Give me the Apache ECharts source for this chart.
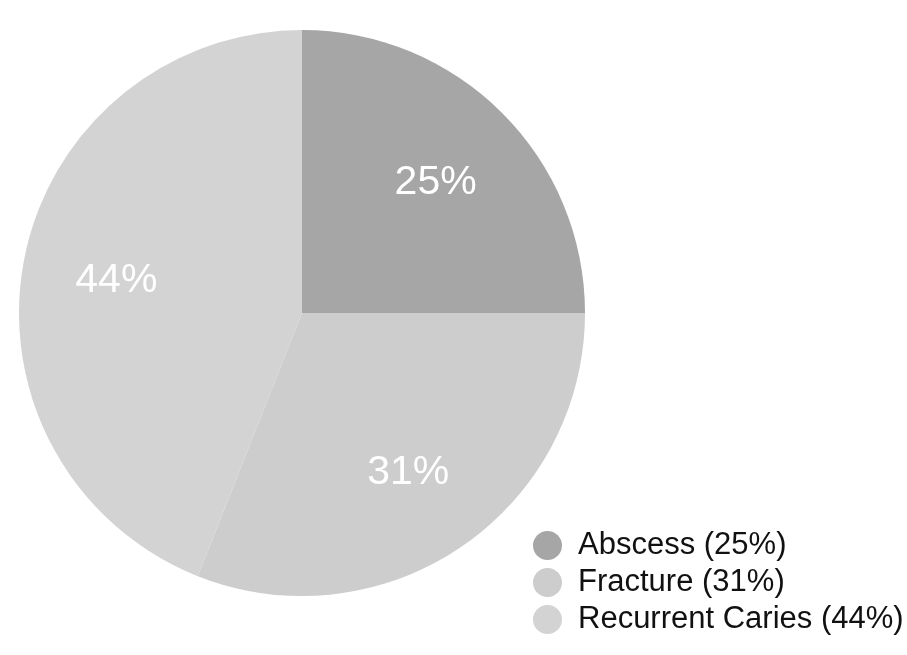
<!DOCTYPE html>
<html>
<head>
<meta charset="utf-8">
<script src="https://cdn.jsdelivr.net/npm/echarts@6/dist/echarts.min.js"></script>
<style>
html,body{margin:0;padding:0;background:#fff;}
#chart{width:907px;height:655px;}
</style>
</head>
<body>
<div id="chart"></div>
<script>
var categories = ['Abscess', 'Fracture', 'Recurrent Caries'];
var values = [25, 31, 44];
var colors = ['#a6a6a6', '#cdcdcd', '#d3d3d3'];

var chart = echarts.init(document.getElementById('chart'));
var pieData = categories.map(function (c, i) {
  return { name: c, value: values[i], itemStyle: { color: colors[i] } };
});
var labelData = categories.map(function (c, i) {
  return { name: c + '_label', value: values[i] };
});
var fontFam = '"Liberation Sans", Arial, Helvetica, sans-serif';
chart.setOption({
  animation: false,
  backgroundColor: '#ffffff',
  legend: {
    orient: 'vertical',
    left: 528,
    top: 525,
    icon: 'circle',
    itemWidth: 29,
    itemHeight: 29,
    itemGap: 6,
    data: categories,
    formatter: function (name) {
      var i = categories.indexOf(name);
      return name + ' (' + values[i] + '%)';
    },
    textStyle: { fontSize: 31, color: '#111', fontFamily: fontFam, padding: [0, 0, 0, 11] }
  },
  series: [
    {
      type: 'pie',
      center: [302, 313],
      radius: [0, 283],
      startAngle: 90,
      clockwise: true,
      silent: true,
      label: { show: false },
      labelLine: { show: false },
      data: pieData
    },
    {
      type: 'pie',
      center: [302, 316],
      radius: [89, 283],
      startAngle: 90,
      clockwise: true,
      silent: true,
      itemStyle: { color: 'rgba(0,0,0,0)' },
      label: {
        show: true,
        position: 'inside',
        formatter: function (p) { return p.value + '%'; },
        color: '#ffffff',
        fontSize: 41,
        fontFamily: fontFam
      },
      labelLine: { show: false },
      data: labelData
    }
  ]
});
</script>
</body>
</html>
